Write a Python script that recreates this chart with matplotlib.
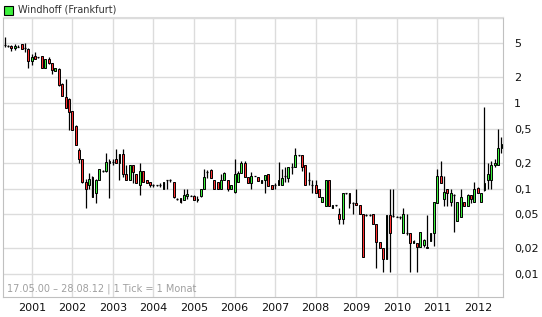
import numpy as np
import pandas as pd
import matplotlib
matplotlib.use("Agg")
import matplotlib.pyplot as plt
import matplotlib.dates as mdates
from matplotlib.ticker import FixedLocator, NullLocator
from matplotlib.patches import Rectangle

# monthly candles, May 2000 .. Aug 2012
opens = [4.8, 4.75, 4.7, 4.4, 4.65, 4.9, 4.35, 4.35, 3.1, 3.55, 3.45, 3.55,
         2.6, 3.25, 2.95, 2.4, 2.5, 1.7, 1.18, 1.13, 0.8, 0.54, 0.28, 0.22,
         0.12, 0.11, 0.137, 0.089, 0.128, 0.16, 0.16, 0.21, 0.2, 0.22, 0.2, 0.253,
         0.15, 0.128, 0.19, 0.15, 0.109, 0.16, 0.125, 0.119, 0.109, 0.109, 0.109, 0.098,
         0.128, 0.128, 0.12, 0.076, 0.077, 0.073, 0.081, 0.083, 0.082, 0.073, 0.081, 0.098,
         0.157, 0.165, 0.128, 0.12, 0.1, 0.128, 0.128, 0.1, 0.092, 0.12, 0.153, 0.2,
         0.137, 0.117, 0.14, 0.137, 0.117, 0.128, 0.15, 0.11, 0.11, 0.11, 0.11, 0.14,
         0.135, 0.177, 0.177, 0.246, 0.246, 0.188, 0.125, 0.11, 0.11, 0.1, 0.07, 0.062,
         0.128, 0.06, 0.064, 0.05, 0.044, 0.088, 0.088, 0.068, 0.068, 0.064, 0.05, 0.049,
         0.049, 0.05, 0.039, 0.024, 0.02, 0.015, 0.049, 0.048, 0.047, 0.047, 0.03, 0.03,
         0.03, 0.023, 0.023, 0.0205, 0.022, 0.02, 0.0245, 0.03, 0.068, 0.14, 0.075, 0.1,
         0.069, 0.085, 0.042, 0.046, 0.069, 0.063, 0.085, 0.07, 0.102, 0.07, 0.097, 0.126,
         0.126, 0.19, 0.19, 0.3]
highs = [6.0, 4.85, 4.8, 4.9, 4.8, 4.95, 5.0, 4.4, 3.75, 3.95, 3.5, 3.6,
         3.3, 3.5, 2.95, 2.6, 2.55, 1.72, 1.9, 1.15, 0.82, 0.56, 0.3, 0.225,
         0.13, 0.153, 0.14, 0.13, 0.17, 0.165, 0.26, 0.225, 0.22, 0.295, 0.255, 0.295,
         0.19, 0.19, 0.19, 0.15, 0.2, 0.16, 0.128, 0.12, 0.112, 0.11, 0.118, 0.12,
         0.128, 0.13, 0.12, 0.077, 0.077, 0.098, 0.098, 0.085, 0.085, 0.082, 0.1, 0.168,
         0.165, 0.168, 0.128, 0.12, 0.15, 0.155, 0.128, 0.11, 0.22, 0.16, 0.21, 0.21,
         0.137, 0.155, 0.14, 0.137, 0.128, 0.145, 0.15, 0.11, 0.117, 0.206, 0.17, 0.18,
         0.18, 0.2, 0.303, 0.25, 0.246, 0.188, 0.155, 0.125, 0.125, 0.1, 0.08, 0.128,
         0.128, 0.064, 0.065, 0.06, 0.088, 0.089, 0.088, 0.069, 0.098, 0.064, 0.05, 0.05,
         0.05, 0.05, 0.039, 0.024, 0.02, 0.049, 0.1, 0.098, 0.048, 0.048, 0.059, 0.051,
         0.03, 0.025, 0.023, 0.031, 0.026, 0.049, 0.03, 0.069, 0.17, 0.21, 0.14, 0.1,
         0.1, 0.086, 0.069, 0.1, 0.07, 0.086, 0.085, 0.12, 0.105, 0.09, 0.905, 0.2,
         0.21, 0.22, 0.5, 0.4]
lows = [4.6, 4.5, 4.1, 4.2, 4.5, 4.25, 4.0, 2.6, 2.8, 3.25, 3.4, 2.6,
        2.6, 2.9, 2.2, 2.35, 1.6, 1.2, 0.88, 0.48, 0.48, 0.32, 0.2, 0.118,
        0.059, 0.098, 0.079, 0.068, 0.125, 0.155, 0.155, 0.078, 0.19, 0.2, 0.128, 0.137,
        0.128, 0.125, 0.117, 0.117, 0.084, 0.119, 0.117, 0.105, 0.104, 0.108, 0.104, 0.098,
        0.098, 0.12, 0.078, 0.074, 0.068, 0.073, 0.075, 0.081, 0.073, 0.07, 0.08, 0.098,
        0.135, 0.135, 0.1, 0.1, 0.098, 0.128, 0.095, 0.1, 0.09, 0.12, 0.153, 0.137,
        0.117, 0.098, 0.14, 0.123, 0.117, 0.089, 0.107, 0.098, 0.098, 0.11, 0.11, 0.12,
        0.12, 0.15, 0.177, 0.244, 0.16, 0.11, 0.11, 0.09, 0.089, 0.079, 0.07, 0.062,
        0.062, 0.06, 0.063, 0.039, 0.039, 0.087, 0.059, 0.05, 0.064, 0.05, 0.0157, 0.048,
        0.048, 0.039, 0.0117, 0.02, 0.0107, 0.015, 0.0107, 0.047, 0.046, 0.044, 0.03, 0.029,
        0.0107, 0.023, 0.0107, 0.0205, 0.021, 0.02, 0.0245, 0.0215, 0.068, 0.118, 0.062, 0.063,
        0.062, 0.031, 0.042, 0.046, 0.063, 0.063, 0.068, 0.07, 0.088, 0.07, 0.095, 0.1,
        0.1, 0.18, 0.19, 0.26]
closes = [4.8, 4.7, 4.45, 4.7, 4.6, 4.3, 4.4, 3.1, 3.5, 3.3, 3.45, 2.6,
          3.25, 2.95, 2.45, 2.55, 1.62, 1.2, 0.89, 0.79, 0.49, 0.32, 0.22, 0.12,
          0.098, 0.13, 0.079, 0.128, 0.168, 0.16, 0.206, 0.2, 0.205, 0.2, 0.253, 0.15,
          0.128, 0.19, 0.157, 0.117, 0.16, 0.119, 0.117, 0.109, 0.109, 0.109, 0.109, 0.12,
          0.128, 0.128, 0.08, 0.075, 0.07, 0.084, 0.087, 0.083, 0.073, 0.076, 0.1, 0.137,
          0.157, 0.135, 0.1, 0.1, 0.128, 0.153, 0.1, 0.11, 0.15, 0.153, 0.2, 0.137,
          0.117, 0.14, 0.14, 0.123, 0.128, 0.144, 0.107, 0.1, 0.11, 0.128, 0.132, 0.14,
          0.177, 0.177, 0.246, 0.246, 0.177, 0.11, 0.125, 0.11, 0.089, 0.079, 0.079, 0.128,
          0.062, 0.064, 0.064, 0.044, 0.088, 0.088, 0.068, 0.068, 0.064, 0.05, 0.0157, 0.049,
          0.049, 0.039, 0.024, 0.02, 0.015, 0.049, 0.03, 0.048, 0.047, 0.046, 0.05, 0.03,
          0.023, 0.0245, 0.0205, 0.031, 0.025, 0.021, 0.03, 0.069, 0.14, 0.118, 0.092, 0.09,
          0.09, 0.084, 0.069, 0.08, 0.063, 0.085, 0.075, 0.1, 0.088, 0.09, 0.118, 0.15,
          0.19, 0.2, 0.3, 0.33]

dates = pd.date_range("2000-05-01", periods=len(closes), freq="MS")
y_ticks = [0.01, 0.02, 0.05, 0.1, 0.2, 0.5, 1, 2, 5, 10]
y_labels = ["0,01", "0,02", "0,05", "0,1", "0,2", "0,5", "1", "2", "5", ""]
years = list(range(2001, 2013))

up_col = "#3cf03c"
down_col = "#ff3030"
grid_col = "#dcdcdc"

fig = plt.figure(figsize=(5.42, 3.17), dpi=100)
ax = fig.add_axes([3 / 542, 20 / 317, 500 / 542, 280 / 317])

x = mdates.date2num(dates)
w = 17  # body width in days
for xi, o, h, l, c in zip(x, opens, highs, lows, closes):
    ax.vlines(xi, l, h, color="black", lw=0.9, zorder=2)
    lo, hi = min(o, c), max(o, c)
    if (hi - lo) / lo < 0.03:
        ax.hlines(c, xi - w / 2, xi + w / 2, color="black", lw=0.9, zorder=3)
    else:
        ax.add_patch(Rectangle((xi - w / 2, lo), w, hi - lo,
                               facecolor=up_col if c > o else down_col,
                               edgecolor="black", lw=0.7, zorder=3))

ax.set_yscale("log")
ax.set_ylim(0.0054, 10.2)
ax.set_xlim(mdates.date2num(pd.Timestamp("2000-04-16")),
            mdates.date2num(pd.Timestamp("2012-08-15")))

ax.yaxis.set_major_locator(FixedLocator(y_ticks))
ax.yaxis.set_minor_locator(NullLocator())
ax.set_yticklabels(y_labels)
ax.yaxis.tick_right()
ax.set_xticks([mdates.date2num(pd.Timestamp(f"{yr}-01-01")) for yr in years])
ax.set_xticklabels([str(yr) for yr in years])
ax.tick_params(axis="both", length=0, labelsize=8, colors="#111111")
ax.tick_params(axis="y", pad=8)
ax.tick_params(axis="x", pad=4)

ax.grid(True, color=grid_col, lw=1, zorder=0)
ax.set_axisbelow(True)
for s in ax.spines.values():
    s.set_color("#c0c0c0")
ax.spines["top"].set_color(grid_col)

ax.text(0.008, 0.012, "17.05.00 \u2013 28.08.12 | 1 Tick = 1 Monat", transform=ax.transAxes,
        fontsize=7, color="#a0a0a0", ha="left", va="bottom", zorder=4)

fig.patches.append(Rectangle((4 / 542, 1 - 15 / 317), 9 / 542, 9 / 317, transform=fig.transFigure,
                             facecolor=up_col, edgecolor="black", lw=0.8))
fig.text(18 / 542, 1 - 10 / 317, "Windhoff (Frankfurt)", fontsize=7, color="#333333",
         ha="left", va="center")

fig.savefig("out.png", dpi=100)
